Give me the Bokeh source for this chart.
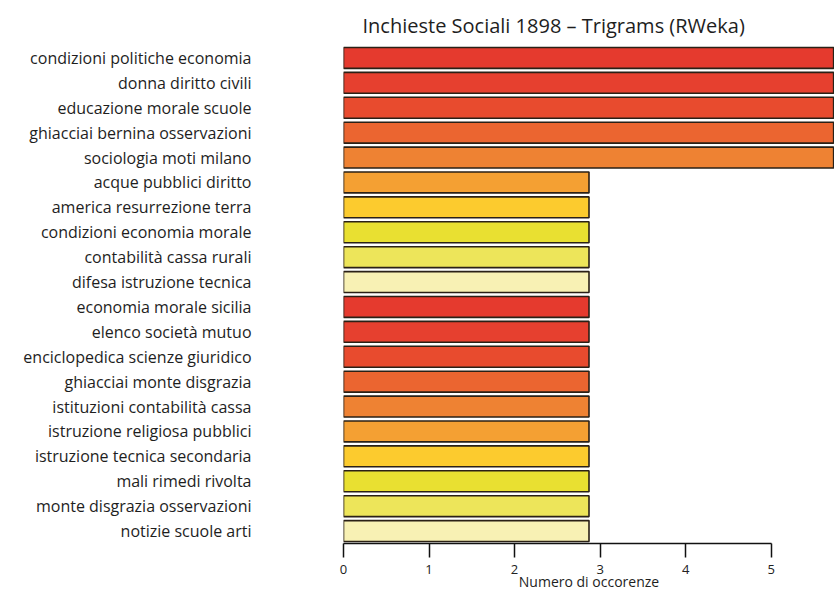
from bokeh.plotting import figure
from bokeh.models import FactorRange, Range1d, FixedTicker, ColumnDataSource
from bokeh.embed import file_html
from bokeh.resources import INLINE

# ---- data ----
trigrams = [
    "condizioni politiche economia",
    "donna diritto civili",
    "educazione morale scuole",
    "ghiacciai bernina osservazioni",
    "sociologia moti milano",
    "acque pubblici diritto",
    "america resurrezione terra",
    "condizioni economia morale",
    "contabilità cassa rurali",
    "difesa istruzione tecnica",
    "economia morale sicilia",
    "elenco società mutuo",
    "enciclopedica scienze giuridico",
    "ghiacciai monte disgrazia",
    "istituzioni contabilità cassa",
    "istruzione religiosa pubblici",
    "istruzione tecnica secondaria",
    "mali rimedi rivolta",
    "monte disgrazia osservazioni",
    "notizie scuole arti",
]
occurrences = [5.73, 5.73, 5.73, 5.73, 5.73,
               2.87, 2.87, 2.87, 2.87, 2.87,
               2.87, 2.87, 2.87, 2.87, 2.87,
               2.87, 2.87, 2.87, 2.87, 2.87]
x_ticks = [0, 1, 2, 3, 4, 5]

# heat-colour palette repeated over the bars
palette = ["#E53A2E", "#E6402F", "#E84B2E", "#EB6530", "#EE8233",
           "#F4A033", "#FCCB2E", "#E9E031", "#EDE55A", "#F8F1B4"]
bar_colors = [palette[i % len(palette)] for i in range(len(trigrams))]

source = ColumnDataSource(dict(cat=trigrams, val=occurrences, col=bar_colors))

FONT = "Open Sans"

p = figure(
    width=834, height=593,
    y_range=FactorRange(factors=list(reversed(trigrams)), range_padding=0),
    x_range=Range1d(0, 5.74),
    output_backend="svg", toolbar_location=None,
    title="Inchieste Sociali 1898 \u2013 Trigrams (RWeka)",
    min_border_left=343, min_border_right=0, min_border_top=45, min_border_bottom=0,
)

p.hbar(y="cat", right="val", left=0, height=0.84, source=source,
       fill_color="col", line_color="#2a2016", line_width=1.6)

# title
p.title.text_font = FONT
p.title.text_font_size = "20px"
p.title.text_font_style = "normal"
p.title.text_color = "#1e1e1e"
p.title.align = "left"
p.title.offset = 19
p.title.standoff = 14

# x axis
xa = p.xaxis[0]
xa.ticker = FixedTicker(ticks=x_ticks)
xa.bounds = (0, 5)
xa.axis_line_color = "#111111"
xa.axis_line_width = 1.5
xa.major_tick_line_color = "#111111"
xa.major_tick_line_width = 1.5
xa.major_tick_in = 0
xa.major_tick_out = 14
xa.minor_tick_line_color = None
xa.major_label_standoff = 7
xa.major_label_text_font = FONT
xa.major_label_text_font_size = "13px"
xa.major_label_text_color = "#222222"
xa.axis_label = "Numero di occorenze"
xa.axis_label_text_font = FONT
xa.axis_label_text_font_size = "14px"
xa.axis_label_text_font_style = "normal"
xa.axis_label_text_color = "#1e1e1e"
xa.axis_label_standoff = -5

# y axis
ya = p.yaxis[0]
ya.axis_line_color = None
ya.major_tick_line_color = None
ya.minor_tick_line_color = None
ya.major_label_standoff = 86
ya.major_label_text_font = FONT
ya.major_label_text_font_size = "16px"
ya.major_label_text_color = "#1e1e1e"

p.xgrid.grid_line_color = None
p.ygrid.grid_line_color = None
p.outline_line_color = None
p.background_fill_color = "white"
p.border_fill_color = "white"

open("out.html", "w").write(file_html(p, INLINE))
